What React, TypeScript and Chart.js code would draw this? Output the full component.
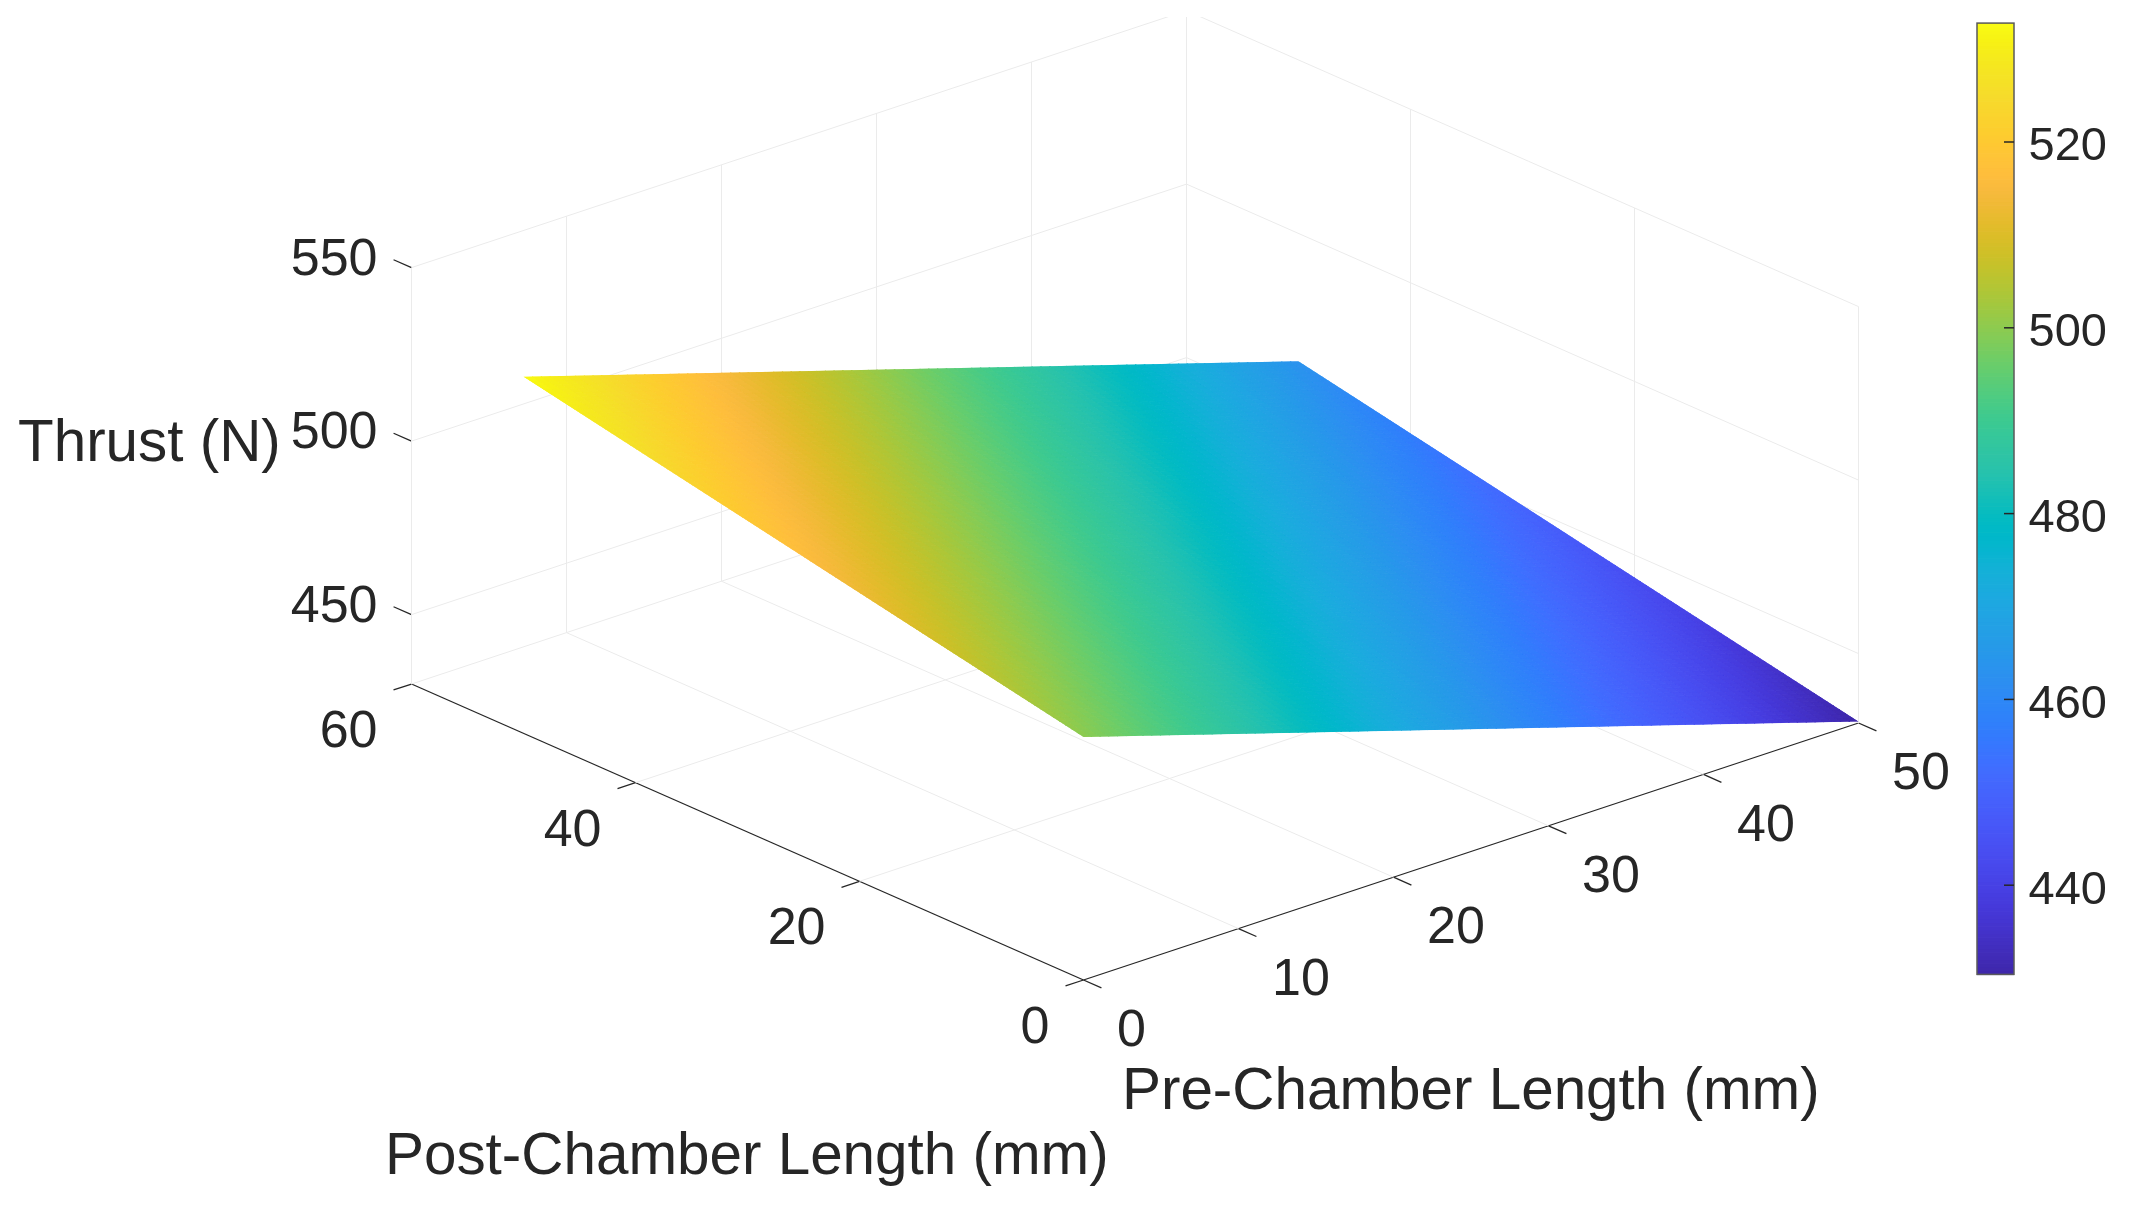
import React, { useEffect, useRef } from "react";
import { Chart, registerables } from "chart.js";

Chart.register(...registerables);

// ---- data ----
const preGrid = [0, 10, 20, 30, 40, 50];
const postGrid = [0, 10, 20, 30, 40, 50];
const thrustPost0 = [500.0, 486.1, 472.2, 458.3, 444.4, 430.4];
const thrustPost10 = [506.6, 492.7, 478.8, 464.9, 451.0, 437.0];
const thrustPost20 = [513.1, 499.2, 485.3, 471.4, 457.5, 443.5];
const thrustPost30 = [519.7, 505.8, 491.9, 478.0, 464.1, 450.1];
const thrustPost40 = [526.2, 512.3, 498.4, 484.5, 470.6, 456.6];
const thrustPost50 = [532.8, 518.9, 505.0, 491.1, 477.2, 463.2];
const thrustRows = [thrustPost0, thrustPost10, thrustPost20, thrustPost30, thrustPost40, thrustPost50];

const preTicks = [0, 10, 20, 30, 40, 50];
const postTicks = [0, 20, 40, 60];
const thrustTicks = [450, 500, 550];
const colorbarTicks = [440, 460, 480, 500, 520];
const colorMin = 430.4;
const colorMax = 532.8;
const preMax = 50;
const postMax = 60;
const zFloor = 430;

const parula = [
  [0.2422, 0.1504, 0.6603], [0.2504, 0.165, 0.7076], [0.2578, 0.1818, 0.7511], [0.2647, 0.1978, 0.7952],
  [0.2706, 0.2147, 0.8364], [0.2751, 0.2342, 0.871], [0.2783, 0.2559, 0.8991], [0.2803, 0.2782, 0.9221],
  [0.2813, 0.3006, 0.9414], [0.281, 0.3228, 0.9579], [0.2795, 0.3447, 0.9717], [0.276, 0.3667, 0.9829],
  [0.2699, 0.3892, 0.9906], [0.2602, 0.4123, 0.9952], [0.244, 0.4358, 0.9988], [0.2206, 0.4603, 0.9973],
  [0.1963, 0.4847, 0.9892], [0.1834, 0.5074, 0.9798], [0.1786, 0.5289, 0.9682], [0.1764, 0.5499, 0.952],
  [0.1687, 0.5703, 0.9359], [0.154, 0.5902, 0.9218], [0.146, 0.6091, 0.9079], [0.138, 0.6276, 0.8973],
  [0.1248, 0.6459, 0.8883], [0.1113, 0.6635, 0.8763], [0.0952, 0.6798, 0.8598], [0.0689, 0.6948, 0.8394],
  [0.0297, 0.7082, 0.8163], [0.0036, 0.7203, 0.7917], [0.0067, 0.7312, 0.766], [0.0433, 0.7411, 0.7394],
  [0.0964, 0.75, 0.712], [0.1408, 0.7584, 0.6842], [0.1717, 0.767, 0.6554], [0.1938, 0.7758, 0.6251],
  [0.2161, 0.7843, 0.5923], [0.247, 0.7918, 0.5567], [0.2906, 0.7973, 0.5188], [0.3406, 0.8008, 0.4789],
  [0.3909, 0.8029, 0.4354], [0.4456, 0.8024, 0.3909], [0.5044, 0.7993, 0.348], [0.5616, 0.7942, 0.3045],
  [0.6174, 0.7876, 0.2612], [0.672, 0.7793, 0.2227], [0.7242, 0.7698, 0.191], [0.7738, 0.7598, 0.1646],
  [0.8203, 0.7498, 0.1535], [0.8634, 0.7406, 0.1596], [0.9035, 0.733, 0.1774], [0.9393, 0.7288, 0.21],
  [0.9728, 0.7298, 0.2394], [0.9956, 0.7434, 0.2371], [0.997, 0.7659, 0.2199], [0.9952, 0.7861, 0.1967],
  [0.9892, 0.8086, 0.1817], [0.9786, 0.831, 0.1756], [0.9676, 0.8545, 0.1709], [0.961, 0.8799, 0.1535],
  [0.9597, 0.901, 0.1298], [0.9637, 0.9247, 0.1029], [0.9691, 0.951, 0.0759], [0.9769, 0.9839, 0.0805],
];

// ---- view ----
const W = 2132;
const H = 1208;
const TEXT = "#262626";
const GRID = "#ebebeb";
const FONT = '"Liberation Sans", Arial, sans-serif';
const view = {
  ox: 1083.5, oy: 980,
  preDx: 15.5, preDy: -5.14,
  postDx: -11.2, postDy: -4.933,
  zDy: -3.47,
  cbLeft: 1977, cbRight: 2014, cbRefY: 142, cbPerUnit: 9.29, cbTickLen: 10,
  gridTopClip: 17,
};

type P = { x: number; y: number };
const project = (pre: number, post: number, z: number): P => ({
  x: view.ox + pre * view.preDx + post * view.postDx,
  y: view.oy + pre * view.preDy + post * view.postDy + (z - zFloor) * view.zDy,
});
const cbY = (v: number) => view.cbRefY + (520 - v) * view.cbPerUnit;

const colorFor = (v: number) => {
  const t = Math.max(0, Math.min(1, (v - colorMin) / (colorMax - colorMin))) * (parula.length - 1);
  const i = Math.min(parula.length - 2, Math.floor(t));
  const f = t - i;
  const c = [0, 1, 2].map((k) => Math.round(255 * (parula[i][k] + (parula[i + 1][k] - parula[i][k]) * f)));
  return `rgb(${c[0]},${c[1]},${c[2]})`;
};

const line = (points: P[], color: string, width = 1) => ({
  data: points,
  showLine: true,
  borderColor: color,
  borderWidth: width,
  pointRadius: 0,
  tension: 0,
  clip: { left: 0, right: 0, bottom: 0, top: -view.gridTopClip },
});

function buildDatasets() {
  const ds: any[] = [];
  const AXIS_W = 1.3;
  // floor grid
  [20, 40, 60].forEach((p) => ds.push(line([project(0, p, zFloor), project(preMax, p, zFloor)], GRID)));
  [10, 20, 30, 40, 50].forEach((q) => ds.push(line([project(q, 0, zFloor), project(q, postMax, zFloor)], GRID)));
  // back walls
  preTicks.forEach((q) => ds.push(line([project(q, postMax, zFloor), project(q, postMax, 550)], GRID)));
  postTicks.forEach((p) => ds.push(line([project(preMax, p, zFloor), project(preMax, p, 550)], GRID)));
  thrustTicks.forEach((z) => {
    ds.push(line([project(0, postMax, z), project(preMax, postMax, z)], GRID));
    ds.push(line([project(preMax, postMax, z), project(preMax, 0, z)], GRID));
  });
  // axes
  ds.push(line([project(0, 0, zFloor), project(preMax, 0, zFloor)], TEXT, AXIS_W));
  ds.push(line([project(0, 0, zFloor), project(0, postMax, zFloor)], TEXT, AXIS_W));
  ds.push(line([project(0, postMax, zFloor), project(0, postMax, 550)], TEXT));
  preTicks.forEach((q) => ds.push(line([project(q, 0, zFloor), project(q, -1.6, zFloor)], TEXT, AXIS_W)));
  postTicks.forEach((p) => ds.push(line([project(0, p, zFloor), project(-1.16, p, zFloor)], TEXT, AXIS_W)));
  thrustTicks.forEach((z) => ds.push(line([project(0, postMax, z), project(0, postMax + 1.6, z)], TEXT, AXIS_W)));
  // colorbar ticks
  colorbarTicks.forEach((v) =>
    ds.push(line([{ x: view.cbRight - view.cbTickLen, y: cbY(v) }, { x: view.cbRight, y: cbY(v) }], TEXT, 1.5)),
  );
  // surface vertices: shaded by the plugin from their scale-resolved positions
  thrustRows.forEach((row, r) => {
    ds.push({
      label: `surface-${r}`,
      data: row.map((z, c) => project(preGrid[c], postGrid[r], z)),
      showLine: false,
      pointRadius: 0,
    });
  });
  return ds;
}

const surfaceShading = {
  id: "surfaceShading",
  beforeDatasetsDraw(chart: any) {
    const { ctx, scales } = chart;
    const left = scales.x.getPixelForValue(view.cbLeft);
    const right = scales.x.getPixelForValue(view.cbRight);
    const top = scales.y.getPixelForValue(cbY(colorMax));
    const bottom = scales.y.getPixelForValue(cbY(colorMin));
    ctx.save();
    const steps = 256;
    for (let i = 0; i < steps; i++) {
      const v0 = colorMin + ((colorMax - colorMin) * i) / steps;
      const v1 = colorMin + ((colorMax - colorMin) * (i + 1)) / steps;
      const y0 = scales.y.getPixelForValue(cbY(v0));
      const y1 = scales.y.getPixelForValue(cbY(v1));
      ctx.fillStyle = colorFor((v0 + v1) / 2);
      ctx.fillRect(left, y1, right - left, y0 - y1 + 0.7);
    }
    ctx.strokeStyle = "#5a5a5a";
    ctx.lineWidth = 1.5;
    ctx.strokeRect(left, top, right - left, bottom - top);
    ctx.restore();
  },
  afterDatasetsDraw(chart: any) {
    const { ctx } = chart;
    const n = thrustRows.length;
    const first = chart.data.datasets.length - n;
    const verts: P[][] = [];
    for (let r = 0; r < n; r++) {
      verts.push(chart.getDatasetMeta(first + r).data.map((e: any) => ({ x: e.x, y: e.y })));
    }
    const last = n - 1;
    const cols = thrustRows[0].length - 1;
    ctx.save();
    ctx.beginPath();
    ctx.moveTo(verts[0][0].x, verts[0][0].y);
    ctx.lineTo(verts[0][cols].x, verts[0][cols].y);
    ctx.lineTo(verts[last][cols].x, verts[last][cols].y);
    ctx.lineTo(verts[last][0].x, verts[last][0].y);
    ctx.closePath();
    ctx.clip();
    const sub = 18;
    const mix = (a: number, b: number, t: number) => a + (b - a) * t;
    for (let r = 0; r < last; r++) {
      for (let c = 0; c < cols; c++) {
        const a = verts[r][c], b = verts[r][c + 1], d = verts[r + 1][c], e = verts[r + 1][c + 1];
        const za = thrustRows[r][c], zb = thrustRows[r][c + 1], zd = thrustRows[r + 1][c], ze = thrustRows[r + 1][c + 1];
        const at = (u: number, v: number) => ({
          x: mix(mix(a.x, b.x, u), mix(d.x, e.x, u), v),
          y: mix(mix(a.y, b.y, u), mix(d.y, e.y, u), v),
        });
        for (let i = 0; i < sub; i++) {
          for (let j = 0; j < sub; j++) {
            const u0 = i / sub, u1 = (i + 1) / sub, v0 = j / sub, v1 = (j + 1) / sub;
            const um = (u0 + u1) / 2, vm = (v0 + v1) / 2;
            const col = colorFor(mix(mix(za, zb, um), mix(zd, ze, um), vm));
            const p1 = at(u0, v0), p2 = at(u1, v0), p3 = at(u1, v1), p4 = at(u0, v1);
            ctx.fillStyle = col;
            ctx.strokeStyle = col;
            ctx.lineWidth = 1;
            ctx.beginPath();
            ctx.moveTo(p1.x, p1.y);
            ctx.lineTo(p2.x, p2.y);
            ctx.lineTo(p3.x, p3.y);
            ctx.lineTo(p4.x, p4.y);
            ctx.closePath();
            ctx.fill();
            ctx.stroke();
          }
        }
      }
    }
    ctx.restore();
  },
  afterDraw(chart: any) {
    const { ctx, scales } = chart;
    const X = (v: number) => scales.x.getPixelForValue(v);
    const Y = (v: number) => scales.y.getPixelForValue(v);
    ctx.save();
    ctx.fillStyle = TEXT;
    ctx.textBaseline = "alphabetic";
    const tick = 52;
    const digitMid = 0.358;
    ctx.font = `${tick}px ${FONT}`;
    ctx.textAlign = "right";
    thrustTicks.forEach((z) => {
      const p = project(0, postMax, z);
      ctx.fillText(String(z), X(p.x - 34), Y(p.y - 11.5 + tick * digitMid));
    });
    postTicks.forEach((q) => {
      const p = project(0, q, zFloor);
      ctx.fillText(String(q), X(p.x - 34), Y(p.y + 44.5 + tick * digitMid));
    });
    ctx.textAlign = "left";
    preTicks.forEach((q) => {
      const p = project(q, 0, zFloor);
      ctx.fillText(String(q), X(p.x + 33.5), Y(p.y + 47.5 + tick * digitMid));
    });
    const cbTick = 47;
    ctx.font = `${cbTick}px ${FONT}`;
    colorbarTicks.forEach((v) => {
      ctx.fillText(String(v), X(view.cbRight + 14.5), Y(cbY(v) + 1.5 + cbTick * digitMid));
    });
    ctx.font = `58.4px ${FONT}`;
    ctx.fillText("Thrust (N)", X(18), Y(461));
    ctx.fillText("Post-Chamber Length (mm)", X(385), Y(1174));
    ctx.fillText("Pre-Chamber Length (mm)", X(1122), Y(1109));
    ctx.restore();
  },
};

export default function App() {
  const ref = useRef<HTMLCanvasElement>(null);
  useEffect(() => {
    if (!ref.current) return;
    const chart = new Chart(ref.current, {
      type: "scatter",
      data: { datasets: buildDatasets() },
      options: {
        animation: false,
        responsive: false,
        devicePixelRatio: 1,
        layout: { padding: 0 },
        events: [],
        plugins: { legend: { display: false }, tooltip: { enabled: false }, title: { display: false } },
        scales: {
          x: { type: "linear", min: 0, max: W, display: false },
          y: { type: "linear", min: 0, max: H, reverse: true, display: false },
        },
      },
      plugins: [surfaceShading],
    } as any);
    return () => chart.destroy();
  }, []);
  return (
    <canvas
      ref={ref}
      width={W}
      height={H}
      style={{ position: "absolute", left: 0, top: 0, width: W, height: H, display: "block", background: "#fff" }}
    />
  );
}
